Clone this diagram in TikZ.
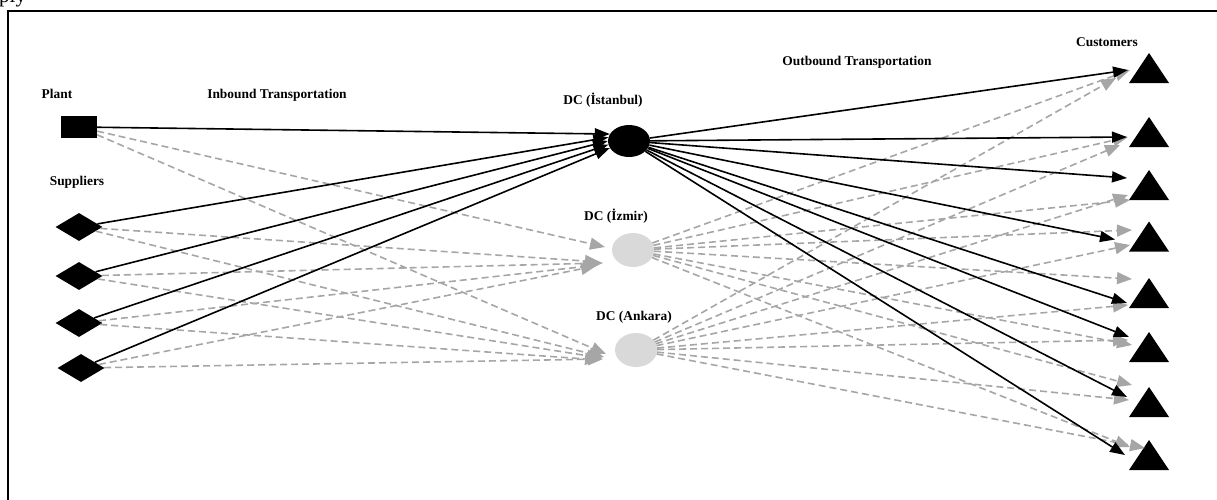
\documentclass[tikz,border=0pt]{standalone}
\usepackage{fontspec}
\setmainfont{Liberation Serif}
\usetikzlibrary{arrows.meta,shapes.geometric}
\definecolor{dgray}{HTML}{A6A6A6}
\definecolor{lgray}{HTML}{D9D9D9}
\begin{document}
\begin{tikzpicture}[x=1pt,y=-1pt,
  lbl/.style={font=\fontsize{13.4}{16}\selectfont\bfseries, inner sep=0, anchor=base},
  blk/.style={line width=1.6pt, -{Triangle[length=15pt,width=11pt]}},
  gry/.style={draw=dgray, line width=1.6pt, dash pattern=on 7pt off 4pt, -{Triangle[length=15pt,width=12pt]}},
  plantbox/.style={rectangle, fill=black, minimum width=36pt, minimum height=22pt, inner sep=0},
  supp/.style={diamond, fill=black, aspect=1.68, minimum width=47pt, minimum height=28pt, inner sep=0},
  dcmain/.style={ellipse, fill=black, minimum width=42pt, minimum height=32pt, inner sep=0},
  dcalt/.style={ellipse, fill=lgray, minimum width=42pt, minimum height=34pt, inner sep=0},
  cust/.style={rectangle, fill=white, minimum width=40pt, minimum height=30pt, inner sep=0,
    path picture={\fill[black] (path picture bounding box.south west) -- (path picture bounding box.south east) -- (path picture bounding box.north) -- cycle;}},
]
\useasboundingbox (0,0) rectangle (1217,499);
% page fragment and frame
\node[font=\fontsize{21}{24}\selectfont, inner sep=0, anchor=base west] (frag) at (-1,2) {ply};
\draw[line width=2pt] (8,530) -- (8,11) -- (1240,11);

% labels
\node[lbl] (lplant) at (57,98) {Plant};
\node[lbl] (linb) at (277,98) {Inbound Transportation};
\node[lbl] (lsupp) at (77,185) {Suppliers};
\node[lbl] (lout) at (857,65) {Outbound Transportation};
\node[lbl] (lcust) at (1107,46) {Customers};
\node[lbl] (list) at (603,104) {DC (İstanbul)};
\node[lbl] (lizm) at (616,220) {DC (İzmir)};
\node[lbl] (lank) at (634,320) {DC (Ankara)};

% nodes
\node[plantbox] (plant) at (79,127) {};
\node[supp] (s1) at (79,227) {};
\node[supp] (s2) at (79,276) {};
\node[supp] (s3) at (79,323) {};
\node[supp] (s4) at (81,368) {};
\node[dcmain] (ist) at (629,141) {};
\node[dcalt] (izm) at (633,250) {};
\node[dcalt] (ank) at (636,350) {};
\node[cust] (c1) at (1149,68) {};
\node[cust] (c2) at (1149,132) {};
\node[cust] (c3) at (1149,185) {};
\node[cust] (c4) at (1149,236.5) {};
\node[cust] (c5) at (1149,293) {};
\node[cust] (c6) at (1149,347) {};
\node[cust] (c7) at (1149,402) {};
\node[cust] (c8) at (1149,455) {};

% inbound dashed
\draw[gry] (plant) -- ([shift={(-28,-3)}]izm.center);
\draw[gry] (s1) -- ([shift={(-33,12)}]izm.center);
\draw[gry] (s2) -- ([shift={(-30,13)}]izm.center);
\draw[gry] (s3) -- ([shift={(-35,15)}]izm.center);
\draw[gry] (s4) -- ([shift={(-37,16)}]izm.center);
\draw[gry] (plant) -- ([shift={(-30,4)}]ank.center);
\draw[gry] (s1) -- ([shift={(-32,7)}]ank.center);
\draw[gry] (s2) -- ([shift={(-34,8)}]ank.center);
\draw[gry] (s3) -- ([shift={(-36,10)}]ank.center);
\draw[gry] (s4) -- ([shift={(-33,9)}]ank.center);

% outbound dashed
\draw[gry] (izm) -- ([shift={(-19,2)}]c1.center);
\draw[gry] (izm) -- ([shift={(-21,5)}]c2.center);
\draw[gry] (izm) -- ([shift={(-19,15)}]c3.center);
\draw[gry] (izm) -- ([shift={(-17,-6.5)}]c4.center);
\draw[gry] (izm) -- ([shift={(-17,-14)}]c5.center);
\draw[gry] (izm) -- ([shift={(-17,-2)}]c6.center);
\draw[gry] (izm) -- ([shift={(-17,-17)}]c7.center);
\draw[gry] (izm) -- ([shift={(-19,-8)}]c8.center);
\draw[gry] (ank) -- ([shift={(-33,10)}]c1.center);
\draw[gry] (ank) -- ([shift={(-29,13)}]c2.center);
\draw[gry] (ank) -- ([shift={(-21,10)}]c3.center);
\draw[gry] (ank) -- ([shift={(-19,8.5)}]c4.center);
\draw[gry] (ank) -- ([shift={(-21,12)}]c5.center);
\draw[gry] (ank) -- ([shift={(-21,-7)}]c6.center);
\draw[gry] (ank) -- ([shift={(-20,-2)}]c7.center);
\draw[gry] (ank) -- ([shift={(-4,-7)}]c8.center);

% inbound solid
\draw[blk] (plant) -- (ist.160);
\draw[blk] (s1) -- (ist.170);
\draw[blk] (s2) -- (ist.180);
\draw[blk] (s3) -- (ist.190);
\draw[blk] (s4) -- (ist.200);

% outbound solid
\draw[blk] (ist) -- ([shift={(-21,2)}]c1.center);
\draw[blk] (ist) -- ([shift={(-22,5)}]c2.center);
\draw[blk] (ist) -- ([shift={(-22,-7)}]c3.center);
\draw[blk] (ist) -- ([shift={(-34,3)}]c4.center);
\draw[blk] (ist) -- ([shift={(-22,10)}]c5.center);
\draw[blk] (ist) -- ([shift={(-20,-10)}]c6.center);
\draw[blk] (ist) -- ([shift={(-22,-5)}]c7.center);
\draw[blk] (ist) -- ([shift={(-24,0)}]c8.center);
\end{tikzpicture}
\end{document}
